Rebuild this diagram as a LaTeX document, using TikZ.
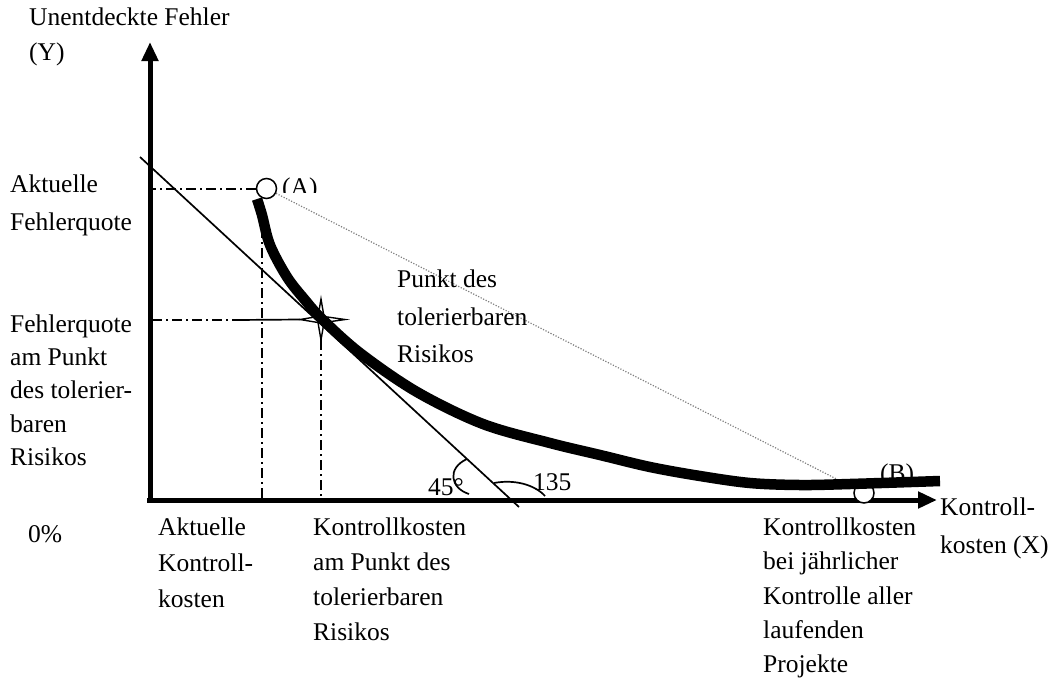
\documentclass[tikz,border=0pt]{standalone}
\usepackage{fontspec}
\setmainfont{Liberation Serif}
\usetikzlibrary{arrows.meta,calc}
\pgfdeclarelayer{bg}
\pgfsetlayers{bg,main}
\begin{document}
\begin{tikzpicture}[x=1pt,y=-1pt,
  lbl/.style={inner sep=0pt, font=\fontsize{25.5}{34}\selectfont, align=left, anchor=north west},
  sgl/.style={inner sep=0pt, font=\fontsize{25.5}{34}\selectfont, anchor=base west},
  axis/.style={line width=5pt, -{Triangle[length=19pt,width=16pt]}},
  dashdot/.style={line width=2pt, dash pattern=on 10pt off 4pt on 2pt off 4pt},
  pt/.style={circle, draw, line width=1.5pt, fill=white, minimum size=20pt, inner sep=0pt},
  curvestyle/.style={line width=10.5pt},
  thinline/.style={line width=1.7pt},
  starline/.style={line width=1.4pt, line join=miter},
  dotline/.style={line width=1.2pt, gray, dash pattern=on 1.2pt off 1.6pt}]
\useasboundingbox (0,0) rectangle (1058,681);

% named coordinates
\coordinate (ybot) at (150,503);
\coordinate (ytop) at (150,42);
\coordinate (xl) at (147,500);
\coordinate (xr) at (937,500);
\coordinate (tg1) at (140,157);
\coordinate (tg2) at (519,507);
\coordinate (yA) at (152,188.5);
\coordinate (vA1) at (261.5,228);
\coordinate (vA2) at (261.5,500);
\coordinate (yT) at (152,320);
\coordinate (hT) at (236,320);
\coordinate (vT2) at (321,500);
\coordinate (T) at (321,319.5);
\coordinate (Tn) at (321,299);
\coordinate (Te) at (345,319.5);
\coordinate (Ts) at (321,340);
\coordinate (Tw) at (300,319.5);

% axes
\draw[axis] (ybot) -- (ytop);
\draw[axis] (xl) -- (xr);

% point B and its label (partly covered by the curve)
\node[pt] (B) at (864,493) {};
\node[sgl] (LB) at (880,481) {(B)};

% the cost curve
\draw[curvestyle] plot[smooth, tension=0.55] coordinates {
 (257,199) (262,215) (270,245) (287,277) (305,300) (322,319) (360,353)
 (417,392) (483,424) (550,443) (600,455) (650,467) (700,476) (750,483)
 (800,485) (850,484) (940,481)};

% point A and clipped label
\node[pt] (A) at (266.5,188.5) {};
\begin{scope}
\clip (270,150) rectangle (340,192.5);
\node[sgl] (LA) at (282,195.7) {(A)};
\end{scope}

% four-pointed star at the point of tolerable risk
\draw[starline] (Tn) -- ($(T)+(3,-3)$) -- (Te) -- ($(T)+(3,3)$) -- (Ts)
  -- ($(T)+(-3,3)$) -- (Tw) -- ($(T)+(-3,-3)$) -- cycle;

% background lines
\begin{pgfonlayer}{bg}
\draw[dotline] (A) -- (B);
\draw[thinline] (tg1) -- (tg2);
\draw[dashdot] (A.west) -- (yA);
\draw[dashdot] (vA1) -- (vA2);
\draw[dashdot] (yT) -- (hT);
\draw[thinline] (hT) -- (Tw);
\draw[dashdot] (Ts) -- (vT2);
\end{pgfonlayer}

% angle arcs
\draw[thinline] (467,459) .. controls (447,468) and (450,488) .. (469,494);
\draw[thinline] (494,483) .. controls (515,479) and (535,485) .. (545,496);
\node[sgl] (a45) at (428,495) {45°};
\node[sgl] (a135) at (533,490) {135};

% labels
\node[lbl, font=\fontsize{25.5}{35}\selectfont] (ylab) at (29,7.6) {Unentdeckte Fehler\\(Y)};
\node[lbl, font=\fontsize{25.5}{38}\selectfont] (akt) at (10,174.6) {Aktuelle\\Fehlerquote};
\node[lbl, font=\fontsize{25.5}{33.3}\selectfont] (fq) at (10,314.3) {Fehlerquote\\am Punkt\\des tolerier-\\baren\\Risikos};
\node[sgl] (zero) at (28,542) {0\%};
\node[lbl, font=\fontsize{25.5}{36}\selectfont] (akk) at (158,517.6) {Aktuelle\\Kontroll-\\kosten};
\node[lbl, font=\fontsize{25.5}{35}\selectfont] (kpt) at (313,517.6) {Kontrollkosten\\am Punkt des\\tolerierbaren\\Risikos};
\node[lbl, font=\fontsize{25.5}{34.25}\selectfont] (kjl) at (763,517.6) {Kontrollkosten\\bei jährlicher\\Kontrolle aller\\laufenden\\Projekte};
\node[lbl, font=\fontsize{25.5}{38}\selectfont] (xlab) at (940,497.6) {Kontroll-\\kosten (X)};
\node[lbl, font=\fontsize{25.5}{37.5}\selectfont] (ptr) at (397,269.6) {Punkt des\\tolerierbaren\\Risikos};
\end{tikzpicture}
\end{document}
